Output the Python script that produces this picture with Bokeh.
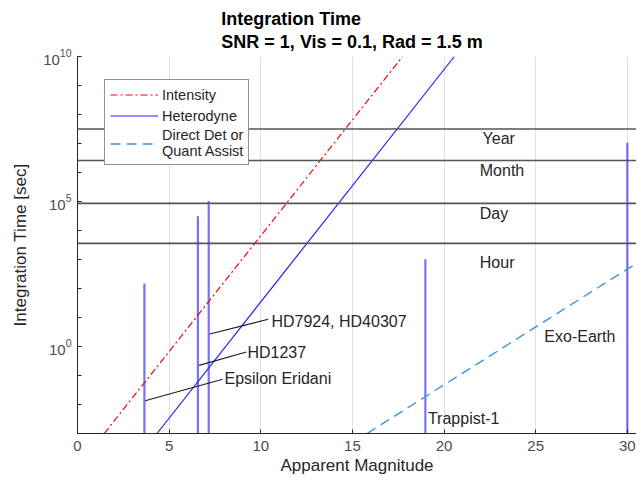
from bokeh.plotting import figure
from bokeh.models import FixedTicker, Legend, LegendItem, Span, Label
from bokeh.embed import file_html
from bokeh.resources import INLINE

# ---------------- data ----------------
intensity_mag = [1.46, 17.74]
intensity_t = [1e-3, 1.0e10]
heterodyne_mag = [4.34, 20.56]
heterodyne_t = [1e-3, 1.0e10]
direct_mag = [15.8, 30.5]
direct_t = [1e-3, 7.4e2]

ref_names = ["Year", "Month", "Day", "Hour"]
ref_times = [3.15e7, 2.6e6, 8.64e4, 3.6e3]
ref_label_mag = [22.1, 21.95, 21.95, 21.95]
ref_label_t = [1.5e7, 1.2e6, 4.0e4, 8.0e2]

star_names = ["Epsilon Eridani", "HD1237", "HD7924, HD40307", "Trappist-1", "Exo-Earth"]
star_mag = [3.65, 6.57, 7.16, 18.98, 30.0]
star_t = [1.5e2, 3.1e4, 1.05e5, 1.02e3, 1.07e7]

# annotation pointer lines (from stem to text) and text anchors
ptr_x0 = [3.69, 6.63, 7.22]
ptr_y0 = [10 ** -1.87, 10 ** -0.65, 10 ** 0.43]
ptr_x1 = [7.92, 9.21, 10.4]
ptr_y1 = [10 ** -1.13, 10 ** -0.19, 10 ** 0.94]
lab_x = [8.02, 9.27, 10.58, 19.12, 25.47]
lab_y = [10 ** -1.11, 10 ** -0.19, 10 ** 0.86, 10 ** -2.47, 10 ** 0.34]

x_ticks = [0, 5, 10, 15, 20, 25, 30]
y_major = [1e0, 1e5, 1e10]
y_minor = [10.0 ** k for k in range(-3, 11)]

FONT = "Liberation Sans"
TXT = "#262626"

p = figure(width=636, height=477, x_range=(0, 30.5), y_range=(1e-3, 1e10),
           y_axis_type="log", output_backend="svg", toolbar_location=None,
           min_border_left=77, min_border_right=0, min_border_top=56,
           min_border_bottom=41)
p.outline_line_color = None
p.background_fill_color = "white"

p.title.text = "Integration Time\nSNR = 1,  Vis = 0.1,  Rad = 1.5 m"
p.title.align = "center"
p.title.text_font = FONT
p.title.text_font_size = "18px"
p.title.text_font_style = "bold"
p.title.text_color = "black"
p.title.text_line_height = 1.15
p.title.standoff = 10

# grid
p.xgrid.ticker = FixedTicker(ticks=x_ticks)
p.xgrid.grid_line_color = "#e0e0e0"
p.ygrid.grid_line_color = None

# axes
xa = p.xaxis[0]
xa.ticker = FixedTicker(ticks=x_ticks)
ya = p.yaxis[0]
ya.ticker = FixedTicker(ticks=y_major, minor_ticks=y_minor)
for ax in (xa, ya):
    ax.axis_line_color = TXT
    ax.axis_line_width = 1
    ax.major_tick_line_color = TXT
    ax.minor_tick_line_color = TXT
    ax.major_tick_in = 4
    ax.major_tick_out = 0
    ax.minor_tick_in = 4
    ax.minor_tick_out = 0
    ax.major_label_text_font = FONT
    ax.major_label_text_font_size = "15px"
    ax.major_label_text_color = "#4d4d4d"
    ax.axis_label_text_font = FONT
    ax.axis_label_text_font_size = "17px"
    ax.axis_label_text_font_style = "normal"
    ax.axis_label_text_color = TXT
xa.axis_label = "Apparent Magnitude"
ya.axis_label = "Integration Time [sec]"
xa.major_label_standoff = 7
xa.axis_label_standoff = 2
ya.major_label_standoff = 6
ya.axis_label_standoff = 10

# reference horizontal lines
for t in ref_times:
    p.add_layout(Span(location=t, dimension="width", line_color="#555555",
                      line_width=1.6))
for name, mx, ty in zip(ref_names, ref_label_mag, ref_label_t):
    p.add_layout(Label(x=mx, y=ty, text=name, text_font=FONT, text_font_size="16px",
                       text_color=TXT, text_baseline="middle", text_align="left"))

# star stems
p.segment(x0=star_mag, y0=[1e-3] * len(star_mag), x1=star_mag, y1=star_t,
          line_color="#0000ff", line_alpha=0.55, line_width=2.2)

# curves
r_int = p.line(intensity_mag, intensity_t, line_color="#ff0000", line_width=1.2,
               line_dash="7 3 2 3")
r_het = p.line(heterodyne_mag, heterodyne_t, line_color="#2020ff", line_width=1.2)
r_dir = p.line(direct_mag, direct_t, line_color="#3d95d8", line_width=1.4,
               line_dash="10 6")

# pointer lines
p.segment(x0=ptr_x0, y0=ptr_y0, x1=ptr_x1, y1=ptr_y1, line_color="#1a1a1a",
          line_width=1.1)
for name, lx, ly in zip(star_names, lab_x, lab_y):
    p.add_layout(Label(x=lx, y=ly, text=name, text_font=FONT, text_font_size="16px",
                       text_color=TXT, text_baseline="middle", text_align="left"))

legend = Legend(items=[LegendItem(label="Intensity", renderers=[r_int]),
                       LegendItem(label="Heterodyne", renderers=[r_het]),
                       LegendItem(label="Direct Det or\nQuant Assist", renderers=[r_dir])],
                location=(27, 268))
legend.label_text_font = FONT
legend.label_text_font_size = "14.5px"
legend.label_text_color = TXT
legend.label_text_line_height = 1.3
legend.glyph_width = 48
legend.glyph_height = 19
legend.label_height = 19
legend.label_standoff = 4
legend.spacing = 2
legend.padding = 5
legend.margin = 0
legend.border_line_color = TXT
legend.border_line_width = 1
legend.background_fill_alpha = 1
p.add_layout(legend)

open("out.html", "w").write(file_html(p, INLINE))
